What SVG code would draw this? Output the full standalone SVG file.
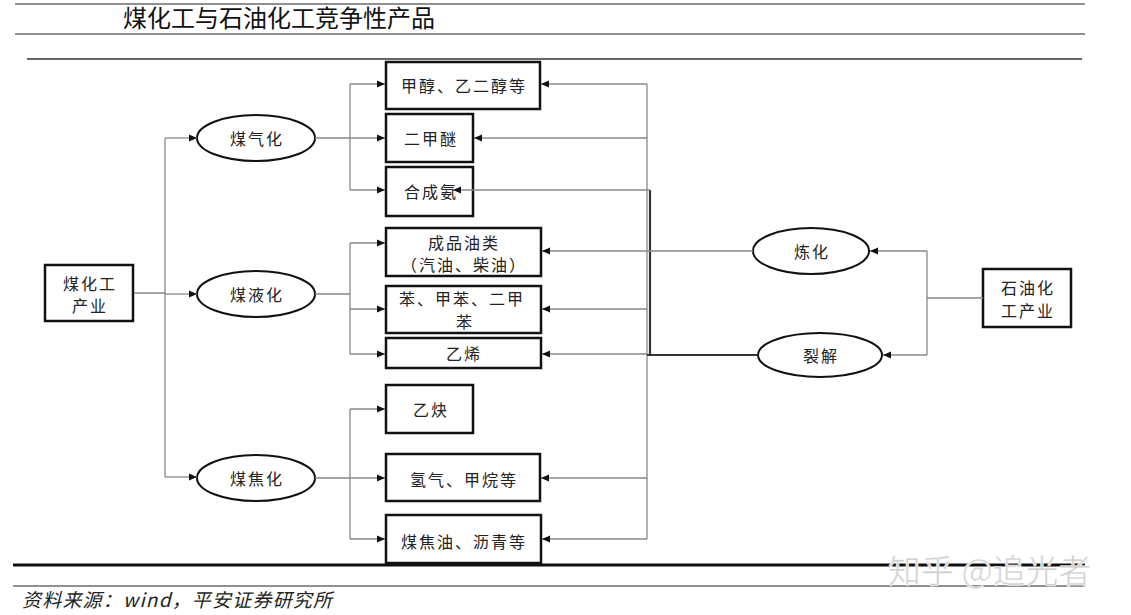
<svg xmlns="http://www.w3.org/2000/svg" width="1131" height="615" viewBox="0 0 1131 615">
<style>
.t{font-family:"Noto Sans CJK SC","Noto Sans",sans-serif;fill:#222;font-size:16px;letter-spacing:2px;text-anchor:middle;dominant-baseline:central}
.box{fill:#fff;stroke:#111;stroke-width:2.5}
.ell{fill:#fff;stroke:#111;stroke-width:2}
.c{fill:none;stroke:#888;stroke-width:1.3}
.ca{fill:none;stroke:#888;stroke-width:1.3;marker-end:url(#ah)}
.ck{fill:none;stroke:#333;stroke-width:2.2}
</style>
<defs>
<marker id="ah" markerUnits="userSpaceOnUse" markerWidth="8" markerHeight="8" refX="8" refY="4" orient="auto">
<path d="M0,0.5 L8,4 L0,7.5 z" fill="#111"/>
</marker>
</defs>
<rect width="1131" height="615" fill="#fff"/>
<g id="header">
<line x1="15" y1="4" x2="1085" y2="4" stroke="#222" stroke-width="1.2"/>
<text x="123" y="27" style="font-family:'Noto Sans CJK SC',sans-serif;font-size:24px;fill:#111">煤化工与石油化工竞争性产品</text>
<line x1="15" y1="34" x2="1085" y2="34" stroke="#222" stroke-width="1.2"/>
<line x1="27" y1="59" x2="1082" y2="59" stroke="#666" stroke-width="2"/>
</g>
<g id="coal">
<rect class="box" x="45" y="265" width="88" height="56"/>
<text class="t" x="90" y="283">煤化工</text>
<text class="t" x="90" y="305">产业</text>
</g>
<g id="gasify">
<ellipse class="ell" cx="256" cy="138" rx="59" ry="23"/>
<text class="t" x="257" y="138">煤气化</text>
</g>
<g id="liquefy">
<ellipse class="ell" cx="256" cy="294" rx="59" ry="23"/>
<text class="t" x="257" y="294">煤液化</text>
</g>
<g id="coke">
<ellipse class="ell" cx="256" cy="478" rx="59" ry="23"/>
<text class="t" x="257" y="478">煤焦化</text>
</g>
<g id="methanol">
<rect class="box" x="386" y="62" width="154" height="47"/>
<text class="t" x="464" y="85">甲醇、乙二醇等</text>
</g>
<g id="dme">
<rect class="box" x="386" y="114" width="87" height="48"/>
<text class="t" x="431" y="138">二甲醚</text>
</g>
<g id="ammonia">
<rect class="box" x="386" y="167" width="87" height="49"/>
<text class="t" x="431" y="191">合成氨</text>
</g>
<g id="oil">
<rect class="box" x="386" y="228" width="155" height="48"/>
<text class="t" x="464" y="242">成品油类</text>
<text class="t" x="464" y="264">（汽油、柴油）</text>
</g>
<g id="benzene">
<rect class="box" x="386" y="286" width="155" height="47"/>
<text class="t" x="462" y="298">苯、甲苯、二甲</text>
<text class="t" x="465" y="321">苯</text>
</g>
<g id="ethylene">
<rect class="box" x="386" y="338" width="155" height="30"/>
<text class="t" x="464" y="353">乙烯</text>
</g>
<g id="acetylene">
<rect class="box" x="386" y="385" width="87" height="48"/>
<text class="t" x="431" y="409">乙炔</text>
</g>
<g id="hydrogen">
<rect class="box" x="386" y="454" width="154" height="47"/>
<text class="t" x="464" y="479">氢气、甲烷等</text>
</g>
<g id="tar">
<rect class="box" x="386" y="515" width="155" height="48"/>
<text class="t" x="464" y="541">煤焦油、沥青等</text>
</g>
<g id="refine">
<ellipse class="ell" cx="811" cy="251" rx="58" ry="23"/>
<text class="t" x="812" y="251">炼化</text>
</g>
<g id="crack">
<ellipse class="ell" cx="820" cy="355" rx="62" ry="22"/>
<text class="t" x="821" y="355">裂解</text>
</g>
<g id="petro">
<rect class="box" x="983" y="269" width="88" height="58"/>
<text class="t" x="1028" y="287">石油化</text>
<text class="t" x="1028" y="310">工产业</text>
</g>
<g id="connectors">
<path class="c" d="M134,293 H165 M165,138 V477"/>
<path class="ca" d="M165,138 H197"/>
<path class="ca" d="M165,294 H197"/>
<path class="ca" d="M165,477 H197"/>
<path class="c" d="M315,138 H350 M350,84 V190"/>
<path class="ca" d="M350,84 H385"/>
<path class="ca" d="M350,138 H385"/>
<path class="ca" d="M350,190 H385"/>
<path class="c" d="M315,294 H350 M350,243 V354"/>
<path class="ca" d="M350,243 H385"/>
<path class="ca" d="M350,309 H385"/>
<path class="ca" d="M350,354 H385"/>
<path class="c" d="M315,478 H350 M350,409 V539"/>
<path class="ca" d="M350,409 H385"/>
<path class="ca" d="M350,478 H385"/>
<path class="ca" d="M350,539 H385"/>
<path class="c" d="M647,84 V539"/>
<path class="ca" d="M647,84 H541"/>
<path class="ca" d="M647,138 H474"/>
<path class="ck" d="M650,190 V355 M758,355 H647"/>
<path class="ca" d="M650,190 H453"/>
<path class="ca" d="M753,251 H542"/>
<path class="ca" d="M647,309 H542"/>
<path class="ca" d="M647,354 H542"/>
<path class="ca" d="M647,478 H541"/>
<path class="ca" d="M647,539 H542"/>
<path class="c" d="M983,298 H927 M927,251 V355"/>
<path class="ca" d="M927,251 H870"/>
<path class="ca" d="M927,355 H883"/>
</g>
<g id="footer">
<line x1="13" y1="565" x2="1085" y2="565" stroke="#111" stroke-width="3"/>
<line x1="13" y1="586" x2="1085" y2="586" stroke="#222" stroke-width="1.2"/>
<text x="22" y="607" style="font-family:'Noto Sans CJK SC',sans-serif;font-size:19px;letter-spacing:1.2px;font-style:italic;fill:#222">资料来源：wind，平安证券研究所</text>
<text x="888" y="583" style="font-family:'Noto Sans CJK SC',sans-serif;font-size:33px;fill:#d0d0d0;stroke:#fff;stroke-width:0.6">知乎 @追光者</text>
</g>
</svg>
